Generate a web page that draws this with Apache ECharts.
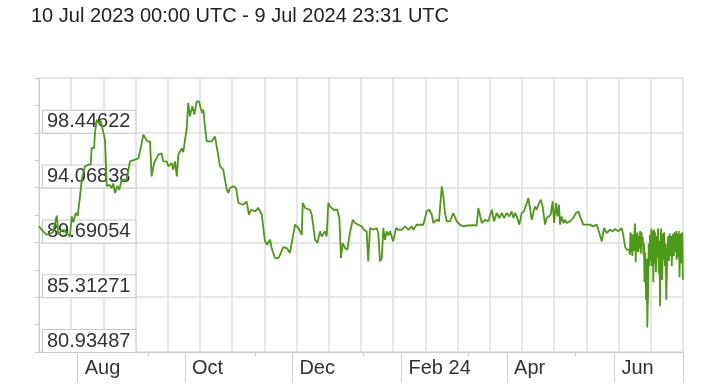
<!DOCTYPE html>
<html>
<head>
<meta charset="utf-8">
<script src="https://cdn.jsdelivr.net/npm/echarts@6/dist/echarts.min.js"></script>
<style>html,body{margin:0;padding:0;background:#fff;}#c{width:722px;height:391px;}</style>
</head>
<body>
<div id="c"></div>
<script>
// ---- data ----
var titleText = '10 Jul 2023 00:00 UTC - 9 Jul 2024 23:31 UTC';
var startDate = '2023-07-10T00:00:00Z';
var endDate = '2024-07-09T23:31:00Z';
// days since start (10 Jul 2023 00:00 UTC)
var days = [0,2.3,4.4,6.3,8.0,10.1,11.0,12.5,13.8,15.7,
17.6,18.6,19.5,20.9,22.0,23.3,24.3,26.1,28.0,29.4,
29.9,31.3,31.8,32.8,34.1,35.1,36.2,37.5,38.5,40.0,
41.3,42.2,43.2,44.5,45.6,47.0,49.8,51.7,54.6,56.4,
57.4,59.3,60.2,61.5,63.1,64.0,65.4,66.5,67.8,69.7,
70.6,72.6,73.5,75.4,76.3,77.3,78.3,79.2,80.1,81.1,
82.0,83.0,83.9,84.8,85.8,87.1,88.3,89.6,90.9,91.9,
92.8,93.4,94.3,95.3,98.1,100.0,101.0,102.9,104.7,106.7,
107.6,108.5,110.4,112.0,113.3,116.1,118.0,119.3,120.5,122.8,
124.6,126.6,128.4,129.7,130.3,131.3,132.2,133.2,134.1,136.0,
137.0,138.8,140.8,142.6,143.6,145.5,146.5,147.4,148.3,149.3,
149.9,151.2,154.0,155.0,156.9,158.2,159.7,160.7,162.5,163.5,
164.4,165.4,166.3,167.3,169.5,170.7,171.6,172.6,173.9,175.2,
176.7,178.3,179.6,181.5,183.4,184.7,186.2,187.1,188.1,189.1,
190.0,191.9,192.8,193.8,194.8,195.7,196.6,197.6,198.5,199.5,
200.4,201.3,202.9,204.2,206.1,208.0,209.9,211.8,212.7,214.6,
216.5,218.4,220.3,221.8,223.2,224.1,226.0,227.3,228.9,229.8,
230.7,231.7,232.6,233.6,234.5,235.4,237.4,239.3,241.1,243.1,
244.9,246.8,248.7,249.7,250.6,251.6,253.5,255.3,257.3,258.6,
260.1,261.6,263.0,264.3,265.8,267.3,268.6,269.6,270.5,271.5,
273.0,274.3,275.6,277.2,278.1,279.0,280.0,280.9,281.9,282.8,
283.8,285.1,286.2,287.6,288.5,289.4,290.8,291.9,292.7,293.8,
294.6,295.5,296.1,297.0,298.0,298.9,299.9,301.8,303.6,305.2,
306.5,307.5,309.3,311.3,313.1,315.0,316.9,317.9,318.8,319.8,
321.1,322.6,324.5,326.0,327.3,329.2,331.1,332.0,333.0,334.0,
335.4,
335.8,336.1,336.5,336.8,337.2,337.6,338.0,338.3,338.7,339.1,
339.4,339.7,340.1,340.5,340.9,341.3,341.6,342.0,342.4,342.8,
343.1,343.5,343.8,344.1,344.4,344.7,345.0,345.4,345.7,345.9,
346.2,346.5,346.9,347.2,347.6,348.0,348.3,348.7,349.1,349.5,
349.8,350.2,350.6,351.0,351.4,351.8,352.2,352.6,352.9,353.2,
353.5,353.9,354.2,354.6,354.9,355.3,355.7,356.1,356.5,356.8,
357.2,357.6,358.0,358.4,358.8,359.2,359.6,360.0,360.4,360.8,
361.2,361.6,362.0,362.4,362.8,363.2,363.6,364.0,364.4,364.8,
365.2,365.6,365.9];
var values = [90.97,90.57,90.3,90.4,90.5,91.83,90.3,90.6,90.7,90.44,
90.17,91.77,91.3,92.04,91.8,93.37,94.7,95.76,95.9,95.9,
97.23,97.23,98.43,99.49,99.2,99.4,98.7,97.9,94.17,94.3,
94.04,94.4,93.64,94.2,93.9,94.7,94.7,96.16,96.3,96.4,
96.96,98.3,98.4,97.76,97.76,94.96,96.03,95.9,96.7,96.8,
96.16,96.16,95.76,96.03,95.5,96.16,94.96,96.7,96.8,97.2,
96.9,97.9,98.7,100.83,99.76,100.56,99.9,100.96,100.96,100.43,
100.0,100.3,98.96,97.76,97.76,98.16,97.36,95.76,95.5,93.9,
93.64,94.04,94.17,94.04,92.84,92.7,92.97,91.9,92.3,92.17,
92.44,91.9,89.8,89.5,89.5,89.9,89.24,89.37,88.44,88.44,
88.7,89.32,89.24,88.84,88.97,91.1,91.24,90.84,90.97,90.3,
92.84,92.44,92.3,91.9,89.9,89.64,90.57,90.17,90.57,90.17,
92.84,92.57,92.57,92.3,92.3,91.64,88.44,89.64,89.24,89.1,
90.44,91.5,91.24,91.1,90.97,90.7,90.57,88.17,90.84,90.84,
90.7,90.84,90.44,88.17,88.44,90.84,89.9,90.57,90.24,90.57,
90.17,89.77,90.84,90.7,90.7,90.97,90.7,90.97,90.7,91.1,
91.1,91.1,92.17,92.3,91.9,91.24,91.5,91.37,94.17,93.37,
92.04,91.37,91.5,91.37,91.5,92.04,91.37,91.1,90.97,91.04,
91.04,91.07,91.04,92.44,92.57,91.24,91.5,91.37,92.3,91.37,
92.04,91.64,92.04,91.64,92.04,91.77,92.17,91.64,92.04,91.77,
91.11,92.04,92.17,92.84,93.24,93.1,91.5,92.04,92.57,92.3,
92.7,93.1,92.57,91.11,91.64,91.5,91.9,92.97,91.24,92.84,
91.77,92.7,91.11,91.77,91.24,91.5,91.24,91.37,91.64,92.04,
92.17,91.77,91.11,91.11,91.11,90.97,91.11,90.7,90.84,89.77,
90.84,90.44,90.7,90.57,90.76,90.57,90.84,90.31,89.37,89.11,
89.11,
88.7,90.5,88.9,90.4,88.6,90.3,89.0,90.3,91.2,88.1,
90.4,89.0,90.5,88.9,90.2,89.2,90.6,88.8,90.5,89.4,
90.1,88.7,89.6,86.5,88.9,87.6,85.1,88.4,82.9,84.5,
86.0,89.6,87.8,90.3,88.2,90.8,87.8,90.6,86.5,90.7,
88.0,90.5,87.3,90.2,88.5,90.8,87.2,89.8,84.6,88.0,
90.8,87.5,86.7,90.4,88.3,90.5,87.8,89.6,85.1,87.3,
89.1,90.2,88.2,90.4,88.6,90.2,87.8,89.9,90.4,88.6,
90.5,88.9,90.6,88.3,90.4,88.5,90.6,86.9,89.8,90.4,
88.0,90.5,86.7];
var yTickLabels = ['80.93487','85.31271','89.69054','94.06838','98.44622'];
var yMin = 80.93487, yMax = 102.82406;
var xTickDates = ['2023-08-01','2023-10-01','2023-12-01','2024-02-01','2024-04-01','2024-06-01'];
var xTickLabels = ['Aug','Oct','Dec','Feb 24','Apr','Jun'];
var xMinorTickDates = ['2023-09-10','2023-11-10','2024-01-10','2024-03-10','2024-05-10'];

// ---- build ----
var DAY = 86400000;
var t0 = Date.parse(startDate), t1 = Date.parse(endDate);
var seriesData = days.map(function (d, i) { return [t0 + d * DAY, values[i]]; });
var xTickVals = xTickDates.map(function (s) { return Date.parse(s + 'T00:00:00Z'); });
var xMinorVals = xMinorTickDates.map(function (s) { return Date.parse(s + 'T00:00:00Z'); });

var FONT = "'Liberation Sans', Arial, sans-serif";
var GRID_C = '#dedede', AXIS_C = '#cccccc';

var chart = echarts.init(document.getElementById('c'), null, { renderer: 'canvas' });
chart.setOption({
  animation: false,
  backgroundColor: '#ffffff',
  title: {
    text: titleText, left: 26, top: 1,
    textStyle: { fontFamily: FONT, fontSize: 20, fontWeight: 'normal', color: '#222', lineHeight: 20 }
  },
  grid: { left: 39, right: 39, top: 78, bottom: 39, outerBoundsMode: 'none', containLabel: false },
  xAxis: [
    { // main time axis (timestamps): labels + long ticks
      type: 'value', min: t0, max: t1, position: 'bottom', z: 1,
      axisLine: { show: true, lineStyle: { color: AXIS_C, width: 1 } },
      axisTick: { show: true, customValues: xTickVals.concat([t1]), length: 31, inside: false, lineStyle: { color: AXIS_C, width: 1 } },
      axisLabel: {
        show: true, customValues: xTickVals, align: 'left', margin: 6,
        padding: [0, 0, 0, 7], showMinLabel: true, showMaxLabel: true,
        fontFamily: FONT, fontSize: 20, lineHeight: 20, color: '#333',
        formatter: function (v) {
          for (var i = 0; i < xTickVals.length; i++) if (Math.abs(xTickVals[i] - v) < 1000) return xTickLabels[i];
          return '';
        }
      },
      splitLine: { show: false }
    },
    { // minor ticks
      type: 'value', min: t0, max: t1, position: 'bottom', z: 1,
      axisLine: { show: false },
      axisTick: { show: true, customValues: xMinorVals, length: 4, lineStyle: { color: AXIS_C, width: 1 } },
      axisLabel: { show: false },
      splitLine: { show: false }
    },
    { // vertical grid lines
      type: 'value', min: 0, max: 20, interval: 1, position: 'bottom', z: 0,
      axisLine: { show: false }, axisTick: { show: false }, axisLabel: { show: false },
      splitLine: { show: true, lineStyle: { color: GRID_C, width: 1.5 } }
    }
  ],
  yAxis: [
    { // main value axis with boxed labels
      type: 'value', min: yMin, max: yMax, position: 'left', z: 2,
      axisLine: { show: true, lineStyle: { color: AXIS_C, width: 1 } },
      axisTick: { show: false },
      splitLine: { show: false },
      axisLabel: {
        show: true, inside: true, customValues: yTickLabels.map(Number), margin: 4,
        verticalAlign: 'bottom', align: 'left',
        fontFamily: FONT, fontSize: 20, lineHeight: 20, color: '#333',
        backgroundColor: '#ffffff', borderColor: '#c8c8c8', borderWidth: 1,
        padding: [1, 5, 1, 4],
        formatter: function (v) {
          for (var i = 0; i < yTickLabels.length; i++) if (Math.abs(Number(yTickLabels[i]) - v) < 1e-6) return yTickLabels[i];
          return '';
        }
      }
    },
    { // horizontal grid lines + left ticks
      type: 'value', min: 0, max: 5, interval: 1, position: 'left', z: 0,
      axisLine: { show: false },
      axisTick: { show: true, length: 4, lineStyle: { color: AXIS_C } },
      minorTick: { show: true, splitNumber: 2, length: 4, lineStyle: { color: AXIS_C } },
      axisLabel: { show: false },
      splitLine: { show: true, lineStyle: { color: GRID_C, width: 1.5 } }
    }
  ],
  series: [{
    type: 'line', xAxisIndex: 0, yAxisIndex: 0, z: 5,
    showSymbol: false, symbol: 'none',
    lineStyle: { color: '#4c9a16', width: 1.8 },
    data: seriesData
  }]
});
</script>
</body>
</html>
